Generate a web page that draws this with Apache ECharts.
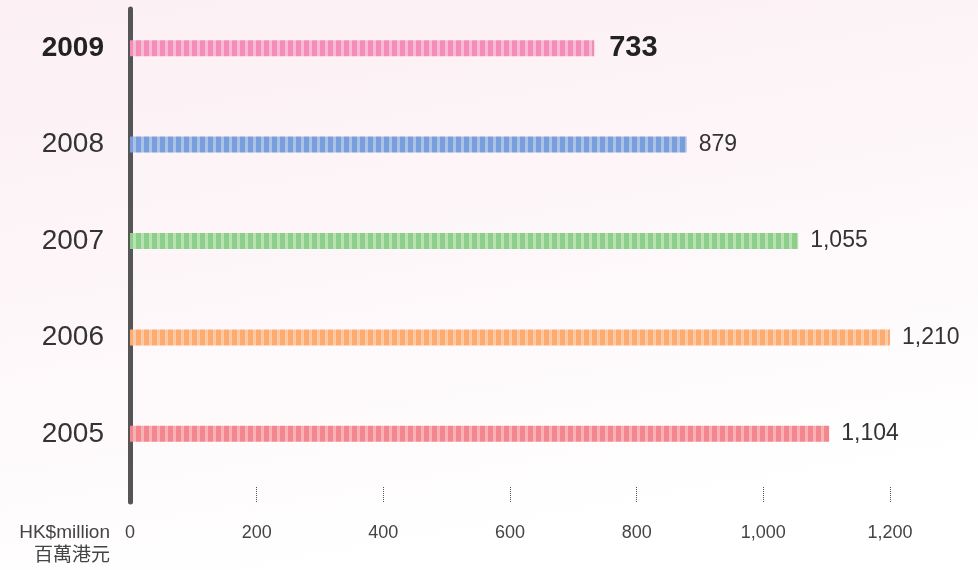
<!DOCTYPE html>
<html>
<head>
<meta charset="utf-8">
<script src="https://cdn.jsdelivr.net/npm/echarts@6/dist/echarts.min.js"></script>
<style>
  html, body { margin: 0; padding: 0; }
  #chart-area {
    width: 978px; height: 570px;
    background: linear-gradient(170deg, #fcf0f4 0%, #fdf5f8 35%, #fefafb 60%, #ffffff 85%);
  }
</style>
</head>
<body>
<div id="chart-area"></div>
<script>
const years = ['2005', '2006', '2007', '2008', '2009'];
const values = [1104, 1210, 1055, 879, 733];
const barColors = ['#f4868e', '#fcab72', '#8dcf8a', '#7a9edb', '#f48cb8'];
const stripeColors = ['#f8b1b6', '#fdcaa3', '#b8e2b2', '#aac1ea', '#f9bad6'];
const xTicks = [0, 200, 400, 600, 800, 1000, 1200];

// striped fill, 8px period with a light 3px stripe
const makeStripe = (main, light) => {
  const c = document.createElement('canvas');
  c.width = 8; c.height = 16;
  const ctx = c.getContext('2d');
  ctx.fillStyle = main;
  ctx.fillRect(0, 0, 8, 16);
  ctx.fillStyle = light;
  ctx.fillRect(5, 0, 3, 16);
  return { image: c, repeat: 'repeat' };
};

const fmt = (v) => v.toLocaleString('en-US');
const last = years.length - 1;

const myChart = echarts.init(document.getElementById('chart-area'));
const option = {
  backgroundColor: 'transparent',
  textStyle: { fontFamily: 'Liberation Sans' },
  grid: [
    { left: 130, right: 88, top: 0, height: 482 },
    { left: 130, right: 88, top: 9, bottom: 68 }
  ],
  xAxis: [
    {
      type: 'value',
      gridIndex: 0,
      min: xTicks[0],
      max: xTicks[xTicks.length - 1],
      interval: 200,
      position: 'bottom',
      offset: 20,
      axisLine: { show: false },
      splitLine: { show: false },
      axisTick: {
        show: true,
        inside: true,
        length: 15,
        lineStyle: { color: '#555', type: [1, 1], width: 1 }
      },
      axisLabel: {
        margin: 22,
        fontSize: 18,
        color: '#444',
        formatter: (v) => fmt(v)
      },
      name: 'HK$million\n百萬港元',
      nameLocation: 'start',
      nameGap: 20,
      nameTextStyle: {
        fontSize: 19,
        color: '#444',
        align: 'right',
        verticalAlign: 'top',
        lineHeight: 23,
        padding: [19, 0, 0, 0],
        fontFamily: 'Liberation Sans, Noto Sans CJK TC'
      }
    },
    { type: 'value', gridIndex: 1, show: false }
  ],
  yAxis: [
    {
      type: 'category',
      gridIndex: 0,
      data: years,
      axisLine: { show: false },
      axisTick: { show: false },
      axisLabel: {
        margin: 26,
        fontSize: 28,
        color: '#333',
        formatter: (v, i) => i === last ? '{b|' + v + '}' : v,
        rich: { b: { fontSize: 28, fontWeight: 'bold', color: '#222' } }
      }
    },
    {
      type: 'value',
      gridIndex: 1,
      axisLine: { show: true, lineStyle: { color: '#555', width: 5 } },
      axisTick: { show: false },
      axisLabel: { show: false },
      splitLine: { show: false }
    }
  ],
  series: [
    {
      type: 'bar',
      xAxisIndex: 0,
      yAxisIndex: 0,
      barWidth: 16,
      data: values.map((v, i) => ({
        value: v,
        itemStyle: { color: makeStripe(barColors[i], stripeColors[i]) },
        label: i === last
          ? { fontSize: 29, fontWeight: 'bold', color: '#222', distance: 15 }
          : { fontSize: 23, color: '#333', distance: 12 }
      })),
      label: {
        show: true,
        position: 'right',
        formatter: (p) => fmt(p.value)
      },
      silent: true
    }
  ]
};
option && myChart.setOption(option);
</script>
</body>
</html>
